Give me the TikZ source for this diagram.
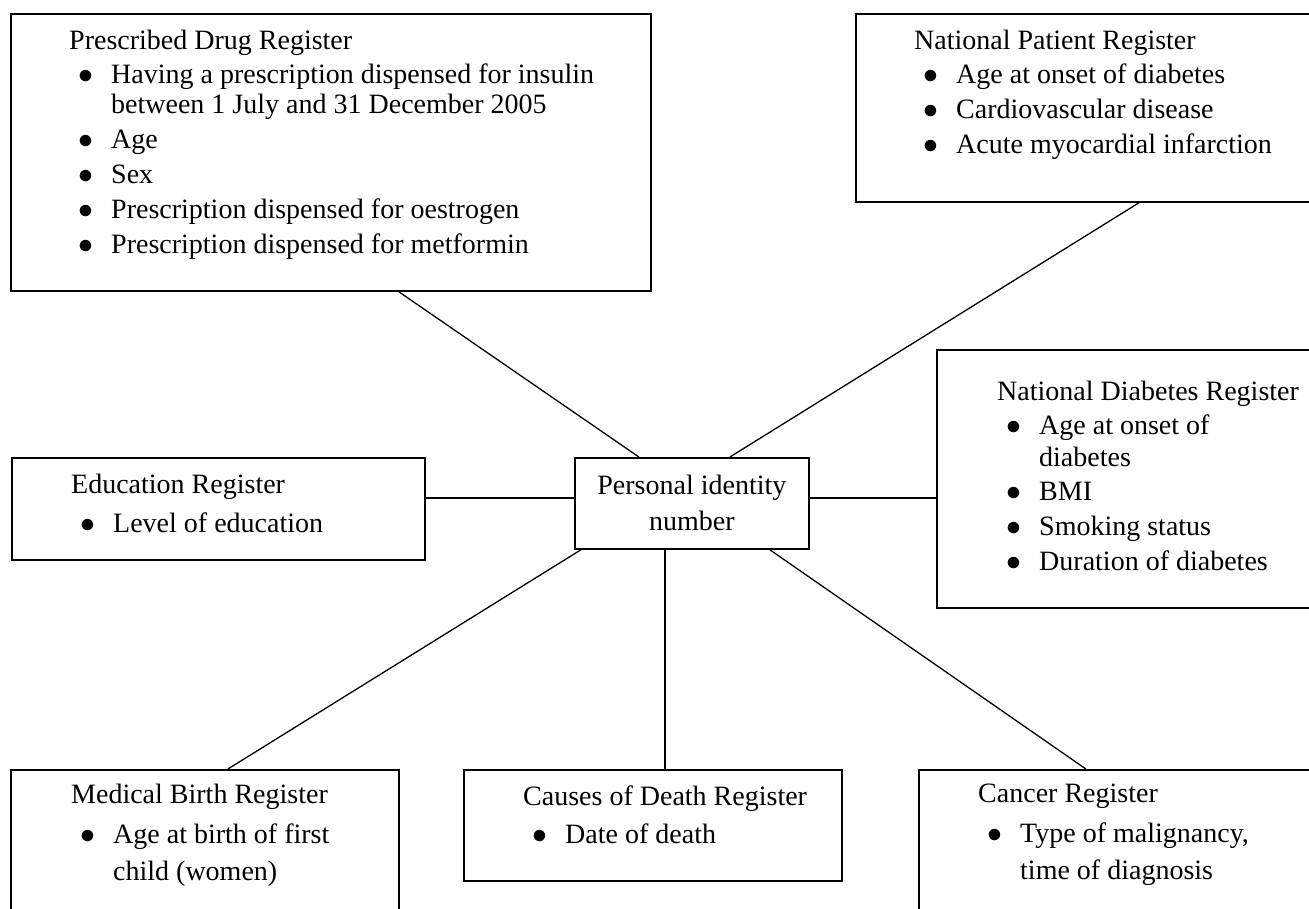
\documentclass[tikz,border=0pt]{standalone}
\usepackage{fontspec}
\setmainfont{Liberation Serif}
\usetikzlibrary{positioning,calc}

% bullet line and its wrapped continuation
\newcommand{\regitem}[1]{\makebox[42pt][l]{\hspace*{9pt}\scalebox{1.2}{$\bullet$}}#1}
\newcommand{\regwrap}[1]{\hspace*{42pt}#1}

\begin{document}
\begin{tikzpicture}[
  x=1pt, y=-1pt,
  font=\fontsize{28}{35}\selectfont,
  regbox/.style={draw=black, line width=1.8pt, anchor=north west, inner sep=0pt},
  regtext/.style={align=left, inner sep=0pt},
  link/.style={draw=black, line width=1.3pt}
]

  \clip (0,0) rectangle (1309,908);

  % Top row
  \node[regbox, minimum width=640pt, minimum height=277pt] (drug) at (10,13) {};
  \node[regtext, below right=17pt and 59pt of drug.north west] (drugtxt) {Prescribed Drug Register\\[-1pt]
    \regitem{Having a prescription dispensed for insulin}\\[-5pt]
    \regwrap{between 1 July and 31 December 2005}\\
    \regitem{Age}\\
    \regitem{Sex}\\
    \regitem{Prescription dispensed for oestrogen}\\
    \regitem{Prescription dispensed for metformin}};

  \node[regbox, minimum width=465pt, minimum height=188pt] (patient) at (855,13) {};
  \node[regtext, below right=17pt and 59pt of patient.north west] (patienttxt) {National Patient Register\\[-1pt]
    \regitem{Age at onset of diabetes}\\
    \regitem{Cardiovascular disease}\\
    \regitem{Acute myocardial infarction}};

  % Middle row
  \node[regbox, minimum width=413pt, minimum height=102pt] (edu) at (11,457) {};
  \node[regtext, below right=17pt and 60pt of edu.north west] (edutxt) {Education Register\\[4pt]
    \regitem{Level of education}};

  \node[regbox, minimum width=234pt, minimum height=91pt, align=center,
        font=\fontsize{28}{36}\selectfont] (id) at (574,457) {Personal identity\\number};

  \node[regbox, minimum width=384pt, minimum height=258pt] (diab) at (936,349) {};
  \node[regtext, below right=32pt and 61pt of diab.north west] (diabtxt) {National Diabetes Register\\[-1pt]
    \regitem{Age at onset of}\\[-3pt]
    \regwrap{diabetes}\\[-1pt]
    \regitem{BMI}\\
    \regitem{Smoking status}\\
    \regitem{Duration of diabetes}};

  % Bottom row
  \node[regbox, minimum width=388pt, minimum height=160pt] (birth) at (10,769) {};
  \node[regtext, below right=15pt and 61pt of birth.north west] (birthtxt) {Medical Birth Register\\[5pt]
    \regitem{Age at birth of first}\\[2pt]
    \regwrap{child (women)}};

  \node[regbox, minimum width=378pt, minimum height=111pt] (death) at (463,769) {};
  \node[regtext, below right=17pt and 60pt of death.north west] (deathtxt) {Causes of Death Register\\[3pt]
    \regitem{Date of death}};

  \node[regbox, minimum width=402pt, minimum height=160pt] (cancer) at (918,769) {};
  \node[regtext, below right=15pt and 60pt of cancer.north west] (cancertxt) {Cancer Register\\[5pt]
    \regitem{Type of malignancy,}\\[2pt]
    \regwrap{time of diagnosis}};

  % Links to the identity number
  \draw[link] ([xshift=68pt]drug.south) -- ([xshift=-53pt]id.north);
  \draw[link] ([xshift=50.5pt]patient.south) -- ([xshift=38pt]id.north);
  \draw[link] ([yshift=11pt]edu.east) -- ([yshift=5.5pt]id.west);
  \draw[link] ([yshift=5.5pt]id.east) -- ([yshift=-19pt]diab.west);
  \draw[link] ([xshift=-111pt]id.south) -- ([xshift=23pt]birth.north);
  \draw[link] ([xshift=-27pt]id.south) -- ([xshift=12pt]death.north);
  \draw[link] ([xshift=78pt]id.south) -- ([xshift=-34pt]cancer.north);

\end{tikzpicture}
\end{document}
